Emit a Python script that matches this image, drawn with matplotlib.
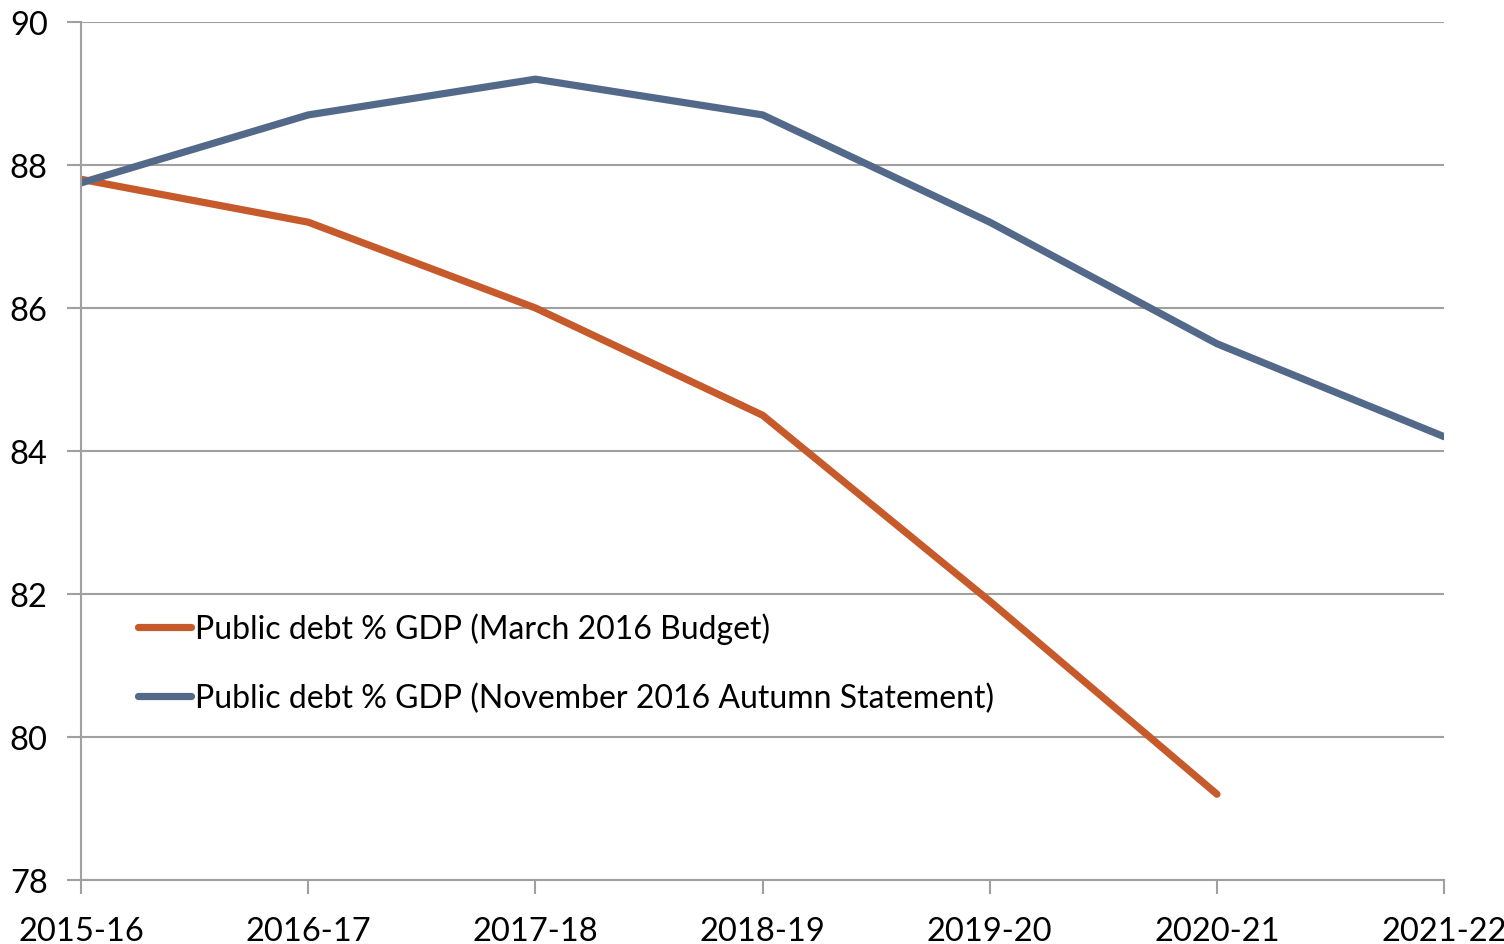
import matplotlib
matplotlib.use("Agg")
import matplotlib.pyplot as plt

# fiscal years on the x axis
years = ["2015-16", "2016-17", "2017-18", "2018-19", "2019-20", "2020-21", "2021-22"]

# public debt as % of GDP
march_2016 = [87.8, 87.2, 86.0, 84.5, 81.9, 79.2]
november_2016 = [87.75, 88.7, 89.2, 88.7, 87.2, 85.5, 84.2]

yticks = [78, 80, 82, 84, 86, 88, 90]

plt.rcParams["font.family"] = ["Lato", "DejaVu Sans"]

grey = "#a0a0a0"
orange = "#c65a2b"
blue = "#53698a"

fig = plt.figure(figsize=(15.04, 9.45), dpi=100)
ax = fig.add_axes([0.0539, 0.0677, 0.9063, 0.908])

ax.plot(
    range(len(march_2016)),
    march_2016,
    color=orange,
    lw=5.2,
    solid_capstyle="round",
    solid_joinstyle="round",
    label="Public debt % GDP (March 2016 Budget)",
)
ax.plot(
    range(len(november_2016)),
    november_2016,
    color=blue,
    lw=5.2,
    solid_capstyle="round",
    solid_joinstyle="round",
    label="Public debt % GDP (November 2016 Autumn Statement)",
)

ax.set_xlim(0, len(years) - 1)
ax.set_ylim(78, 90)
ax.set_xticks(range(len(years)))
ax.set_xticklabels(years)
ax.set_yticks(yticks)
ax.set_yticklabels([str(t) for t in yticks])

ax.grid(axis="y", color=grey, lw=1.5)
ax.set_axisbelow(True)

for side in ["top", "right"]:
    ax.spines[side].set_visible(False)
for side in ["left", "bottom"]:
    ax.spines[side].set_color(grey)
    ax.spines[side].set_linewidth(1.5)

ax.tick_params(axis="both", colors=grey, width=1.5, length=10, labelsize=23.5, labelcolor="black")
ax.tick_params(axis="y", pad=14)
ax.tick_params(axis="x", pad=16)

leg = ax.legend(
    loc="upper left",
    bbox_to_anchor=(0.021, 0.345),
    frameon=False,
    fontsize=23,
    handlelength=1.65,
    handletextpad=0.12,
    labelspacing=1.2,
)

fig.savefig("out.png", dpi=100)
